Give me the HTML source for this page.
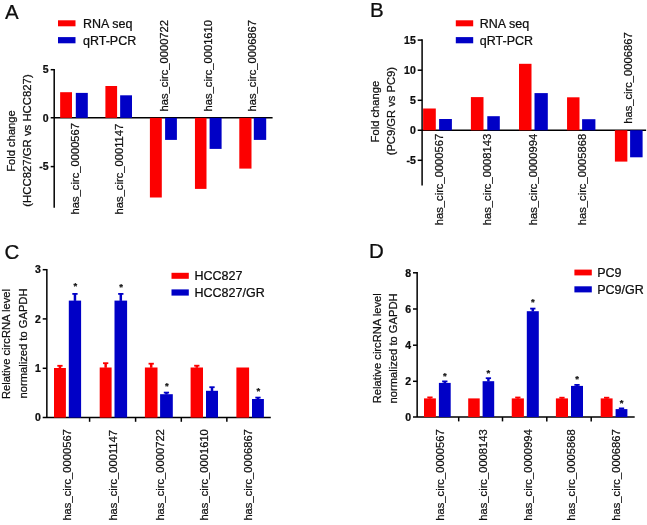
<!DOCTYPE html>
<html lang="en">
<head>
<meta charset="utf-8">
<title>circRNA expression figure</title>
<style>
html,body{margin:0;padding:0;background:#ffffff;}
body{width:647px;height:525px;overflow:hidden;}
svg{display:block;}
svg text{font-family:"Liberation Sans", Arial, sans-serif;stroke:#0a0a0a;stroke-width:0.22px;stroke-linejoin:round;}
</style>
</head>
<body>
<svg width="647" height="525" viewBox="0 0 647 525">
<defs><filter id="soft" x="0" y="0" width="647" height="525" filterUnits="userSpaceOnUse"><feGaussianBlur stdDeviation="0.38"/></filter></defs>
<rect x="0" y="0" width="647" height="525" fill="#ffffff"/>
<g filter="url(#soft)">
<!-- Panel A -->
<text x="4.90" y="18.60" font-size="20.5" text-anchor="start" font-weight="normal" fill="#0a0a0a">A</text>
<rect x="58.00" y="20.30" width="17.50" height="6.00" fill="#fc0202"/>
<rect x="58.00" y="37.10" width="17.50" height="6.20" fill="#0202c6"/>
<text x="83.00" y="27.50" font-size="12.5" text-anchor="start" font-weight="normal" fill="#0a0a0a">RNA seq</text>
<text x="83.00" y="44.50" font-size="12.5" text-anchor="start" font-weight="normal" fill="#0a0a0a">qRT-PCR</text>
<line x1="54.20" y1="68.95" x2="54.20" y2="207.70" stroke="#000000" stroke-width="1.5"/>
<line x1="50.70" y1="117.85" x2="272.60" y2="117.85" stroke="#000000" stroke-width="1.5"/>
<line x1="50.70" y1="69.70" x2="54.20" y2="69.70" stroke="#000000" stroke-width="1.5"/>
<line x1="50.70" y1="166.60" x2="54.20" y2="166.60" stroke="#000000" stroke-width="1.5"/>
<text x="48.60" y="73.45" font-size="10.5" text-anchor="end" font-weight="bold" fill="#0a0a0a">5</text>
<text x="48.60" y="121.60" font-size="10.5" text-anchor="end" font-weight="bold" fill="#0a0a0a">0</text>
<text x="48.60" y="170.35" font-size="10.5" text-anchor="end" font-weight="bold" fill="#0a0a0a">-5</text>
<rect x="60.15" y="92.20" width="11.85" height="25.65" fill="#fc0202"/>
<rect x="75.80" y="92.90" width="12.00" height="24.95" fill="#0202c6"/>
<text x="78.60" y="214.40" font-size="11.2" text-anchor="start" font-weight="normal" fill="#0a0a0a" transform="rotate(-90 78.60 214.40)">has_circ_0000567</text>
<rect x="105.40" y="86.00" width="11.70" height="31.85" fill="#fc0202"/>
<rect x="120.15" y="95.30" width="11.85" height="22.55" fill="#0202c6"/>
<text x="123.30" y="214.40" font-size="11.2" text-anchor="start" font-weight="normal" fill="#0a0a0a" transform="rotate(-90 123.30 214.40)">has_circ_0001147</text>
<rect x="149.90" y="117.85" width="11.90" height="79.65" fill="#fc0202"/>
<rect x="165.10" y="117.85" width="11.80" height="22.05" fill="#0202c6"/>
<text x="168.30" y="111.40" font-size="11.2" text-anchor="start" font-weight="normal" fill="#0a0a0a" transform="rotate(-90 168.30 111.40)">has_circ_0000722</text>
<rect x="194.95" y="117.85" width="11.55" height="71.05" fill="#fc0202"/>
<rect x="209.60" y="117.85" width="12.00" height="31.05" fill="#0202c6"/>
<text x="212.20" y="111.40" font-size="11.2" text-anchor="start" font-weight="normal" fill="#0a0a0a" transform="rotate(-90 212.20 111.40)">has_circ_0001610</text>
<rect x="239.30" y="117.85" width="12.20" height="50.75" fill="#fc0202"/>
<rect x="253.80" y="117.85" width="12.40" height="22.05" fill="#0202c6"/>
<text x="255.80" y="111.40" font-size="11.2" text-anchor="start" font-weight="normal" fill="#0a0a0a" transform="rotate(-90 255.80 111.40)">has_circ_0006867</text>
<text x="14.60" y="141.00" font-size="11.2" text-anchor="middle" font-weight="normal" fill="#0a0a0a" transform="rotate(-90 14.60 141.00)">Fold change</text>
<text x="31.20" y="140.50" font-size="11.35" text-anchor="middle" font-weight="normal" fill="#0a0a0a" transform="rotate(-90 31.20 140.50)">(HCC827/GR vs HCC827)</text>
<!-- Panel B -->
<text x="370.00" y="17.40" font-size="20.5" text-anchor="start" font-weight="normal" fill="#0a0a0a">B</text>
<rect x="455.80" y="20.30" width="17.40" height="6.00" fill="#fc0202"/>
<rect x="455.80" y="37.10" width="17.40" height="6.20" fill="#0202c6"/>
<text x="479.80" y="27.90" font-size="12.5" text-anchor="start" font-weight="normal" fill="#0a0a0a">RNA seq</text>
<text x="479.80" y="44.90" font-size="12.5" text-anchor="start" font-weight="normal" fill="#0a0a0a">qRT-PCR</text>
<line x1="422.10" y1="39.35" x2="422.10" y2="185.40" stroke="#000000" stroke-width="1.5"/>
<line x1="417.70" y1="130.25" x2="646.10" y2="130.25" stroke="#000000" stroke-width="1.5"/>
<line x1="417.70" y1="40.10" x2="422.10" y2="40.10" stroke="#000000" stroke-width="1.5"/>
<line x1="417.70" y1="70.20" x2="422.10" y2="70.20" stroke="#000000" stroke-width="1.5"/>
<line x1="417.70" y1="100.30" x2="422.10" y2="100.30" stroke="#000000" stroke-width="1.5"/>
<line x1="417.70" y1="160.30" x2="422.10" y2="160.30" stroke="#000000" stroke-width="1.5"/>
<text x="415.80" y="43.85" font-size="10.5" text-anchor="end" font-weight="bold" fill="#0a0a0a">15</text>
<text x="415.80" y="73.95" font-size="10.5" text-anchor="end" font-weight="bold" fill="#0a0a0a">10</text>
<text x="415.80" y="104.05" font-size="10.5" text-anchor="end" font-weight="bold" fill="#0a0a0a">5</text>
<text x="415.80" y="134.00" font-size="10.5" text-anchor="end" font-weight="bold" fill="#0a0a0a">0</text>
<text x="415.80" y="164.05" font-size="10.5" text-anchor="end" font-weight="bold" fill="#0a0a0a">-5</text>
<rect x="423.10" y="108.50" width="12.70" height="21.75" fill="#fc0202"/>
<rect x="439.10" y="119.00" width="12.80" height="11.25" fill="#0202c6"/>
<text x="443.50" y="225.20" font-size="11.2" text-anchor="start" font-weight="normal" fill="#0a0a0a" transform="rotate(-90 443.50 225.20)">has_circ_0000567</text>
<rect x="470.90" y="97.10" width="12.60" height="33.15" fill="#fc0202"/>
<rect x="487.30" y="116.20" width="12.50" height="14.05" fill="#0202c6"/>
<text x="491.20" y="225.20" font-size="11.2" text-anchor="start" font-weight="normal" fill="#0a0a0a" transform="rotate(-90 491.20 225.20)">has_circ_0008143</text>
<rect x="519.00" y="63.80" width="12.50" height="66.45" fill="#fc0202"/>
<rect x="534.50" y="93.10" width="13.30" height="37.15" fill="#0202c6"/>
<text x="537.00" y="225.20" font-size="11.2" text-anchor="start" font-weight="normal" fill="#0a0a0a" transform="rotate(-90 537.00 225.20)">has_circ_0000994</text>
<rect x="567.05" y="97.30" width="12.45" height="32.95" fill="#fc0202"/>
<rect x="582.10" y="119.20" width="13.30" height="11.05" fill="#0202c6"/>
<text x="585.60" y="225.20" font-size="11.2" text-anchor="start" font-weight="normal" fill="#0a0a0a" transform="rotate(-90 585.60 225.20)">has_circ_0005868</text>
<rect x="614.90" y="130.25" width="12.45" height="31.35" fill="#fc0202"/>
<rect x="630.10" y="130.25" width="12.50" height="27.05" fill="#0202c6"/>
<text x="631.60" y="123.80" font-size="11.2" text-anchor="start" font-weight="normal" fill="#0a0a0a" transform="rotate(-90 631.60 123.80)">has_circ_0006867</text>
<text x="378.70" y="111.60" font-size="11.2" text-anchor="middle" font-weight="normal" fill="#0a0a0a" transform="rotate(-90 378.70 111.60)">Fold change</text>
<text x="395.30" y="111.20" font-size="11.2" text-anchor="middle" font-weight="normal" fill="#0a0a0a" transform="rotate(-90 395.30 111.20)">(PC9/GR vs PC9)</text>
<!-- Panel C -->
<text x="4.60" y="258.60" font-size="20.5" text-anchor="start" font-weight="normal" fill="#0a0a0a">C</text>
<rect x="171.50" y="272.80" width="17.30" height="6.00" fill="#fc0202"/>
<rect x="171.50" y="289.40" width="17.30" height="6.20" fill="#0202c6"/>
<text x="194.50" y="279.90" font-size="12.5" text-anchor="start" font-weight="normal" fill="#0a0a0a">HCC827</text>
<text x="194.50" y="297.30" font-size="12.5" text-anchor="start" font-weight="normal" fill="#0a0a0a">HCC827/GR</text>
<line x1="46.85" y1="268.95" x2="46.85" y2="417.60" stroke="#000000" stroke-width="1.5"/>
<line x1="42.70" y1="417.60" x2="270.80" y2="417.60" stroke="#000000" stroke-width="1.5"/>
<line x1="42.70" y1="269.70" x2="46.85" y2="269.70" stroke="#000000" stroke-width="1.5"/>
<line x1="42.70" y1="318.90" x2="46.85" y2="318.90" stroke="#000000" stroke-width="1.5"/>
<line x1="42.70" y1="368.30" x2="46.85" y2="368.30" stroke="#000000" stroke-width="1.5"/>
<text x="40.80" y="273.45" font-size="10.5" text-anchor="end" font-weight="bold" fill="#0a0a0a">3</text>
<text x="40.80" y="322.65" font-size="10.5" text-anchor="end" font-weight="bold" fill="#0a0a0a">2</text>
<text x="40.80" y="372.05" font-size="10.5" text-anchor="end" font-weight="bold" fill="#0a0a0a">1</text>
<text x="40.80" y="421.35" font-size="10.5" text-anchor="end" font-weight="bold" fill="#0a0a0a">0</text>
<line x1="89.60" y1="417.60" x2="89.60" y2="421.80" stroke="#000000" stroke-width="1.5"/>
<line x1="135.60" y1="417.60" x2="135.60" y2="421.80" stroke="#000000" stroke-width="1.5"/>
<line x1="181.30" y1="417.60" x2="181.30" y2="421.80" stroke="#000000" stroke-width="1.5"/>
<line x1="226.85" y1="417.60" x2="226.85" y2="421.80" stroke="#000000" stroke-width="1.5"/>
<rect x="54.00" y="368.00" width="11.90" height="49.60" fill="#fc0202"/>
<line x1="59.95" y1="368.30" x2="59.95" y2="365.80" stroke="#fc0202" stroke-width="2.5"/>
<line x1="57.30" y1="365.80" x2="62.60" y2="365.80" stroke="#fc0202" stroke-width="1.8"/>
<rect x="68.80" y="300.60" width="12.30" height="117.00" fill="#0202c6"/>
<line x1="74.95" y1="300.90" x2="74.95" y2="293.90" stroke="#0202c6" stroke-width="2.5"/>
<line x1="72.30" y1="293.90" x2="77.60" y2="293.90" stroke="#0202c6" stroke-width="1.8"/>
<text x="75.25" y="288.90" font-size="9.5" text-anchor="middle" font-weight="bold" fill="#0a0a0a">*</text>
<text x="71.30" y="520.60" font-size="11.2" text-anchor="start" font-weight="normal" fill="#0a0a0a" transform="rotate(-90 71.30 520.60)">has_circ_0000567</text>
<rect x="99.70" y="367.50" width="11.90" height="50.10" fill="#fc0202"/>
<line x1="105.65" y1="367.80" x2="105.65" y2="363.20" stroke="#fc0202" stroke-width="2.5"/>
<line x1="103.00" y1="363.20" x2="108.30" y2="363.20" stroke="#fc0202" stroke-width="1.8"/>
<rect x="114.50" y="300.60" width="12.60" height="117.00" fill="#0202c6"/>
<line x1="120.80" y1="300.90" x2="120.80" y2="293.90" stroke="#0202c6" stroke-width="2.5"/>
<line x1="118.15" y1="293.90" x2="123.45" y2="293.90" stroke="#0202c6" stroke-width="1.8"/>
<text x="121.10" y="290.40" font-size="9.5" text-anchor="middle" font-weight="bold" fill="#0a0a0a">*</text>
<text x="117.30" y="520.60" font-size="11.2" text-anchor="start" font-weight="normal" fill="#0a0a0a" transform="rotate(-90 117.30 520.60)">has_circ_0001147</text>
<rect x="144.90" y="367.50" width="12.60" height="50.10" fill="#fc0202"/>
<line x1="151.20" y1="367.80" x2="151.20" y2="363.70" stroke="#fc0202" stroke-width="2.5"/>
<line x1="148.55" y1="363.70" x2="153.85" y2="363.70" stroke="#fc0202" stroke-width="1.8"/>
<rect x="160.10" y="394.20" width="12.70" height="23.40" fill="#0202c6"/>
<line x1="166.45" y1="394.50" x2="166.45" y2="392.60" stroke="#0202c6" stroke-width="2.5"/>
<line x1="163.80" y1="392.60" x2="169.10" y2="392.60" stroke="#0202c6" stroke-width="1.8"/>
<text x="166.75" y="389.10" font-size="9.5" text-anchor="middle" font-weight="bold" fill="#0a0a0a">*</text>
<text x="163.80" y="520.60" font-size="11.2" text-anchor="start" font-weight="normal" fill="#0a0a0a" transform="rotate(-90 163.80 520.60)">has_circ_0000722</text>
<rect x="190.60" y="367.50" width="12.40" height="50.10" fill="#fc0202"/>
<line x1="196.80" y1="367.80" x2="196.80" y2="365.70" stroke="#fc0202" stroke-width="2.5"/>
<line x1="194.15" y1="365.70" x2="199.45" y2="365.70" stroke="#fc0202" stroke-width="1.8"/>
<rect x="206.00" y="390.80" width="12.00" height="26.80" fill="#0202c6"/>
<line x1="212.00" y1="391.10" x2="212.00" y2="387.20" stroke="#0202c6" stroke-width="2.5"/>
<line x1="209.35" y1="387.20" x2="214.65" y2="387.20" stroke="#0202c6" stroke-width="1.8"/>
<text x="207.90" y="520.60" font-size="11.2" text-anchor="start" font-weight="normal" fill="#0a0a0a" transform="rotate(-90 207.90 520.60)">has_circ_0001610</text>
<rect x="236.40" y="367.50" width="12.70" height="50.10" fill="#fc0202"/>
<rect x="252.00" y="399.00" width="11.90" height="18.60" fill="#0202c6"/>
<line x1="257.95" y1="399.30" x2="257.95" y2="397.60" stroke="#0202c6" stroke-width="2.5"/>
<line x1="255.30" y1="397.60" x2="260.60" y2="397.60" stroke="#0202c6" stroke-width="1.8"/>
<text x="258.25" y="393.70" font-size="9.5" text-anchor="middle" font-weight="bold" fill="#0a0a0a">*</text>
<text x="252.40" y="520.60" font-size="11.2" text-anchor="start" font-weight="normal" fill="#0a0a0a" transform="rotate(-90 252.40 520.60)">has_circ_0006867</text>
<text x="9.80" y="344.00" font-size="11.2" text-anchor="middle" font-weight="normal" fill="#0a0a0a" transform="rotate(-90 9.80 344.00)">Relative circRNA level</text>
<text x="27.30" y="343.50" font-size="11.2" text-anchor="middle" font-weight="normal" fill="#0a0a0a" transform="rotate(-90 27.30 343.50)">normalized to GAPDH</text>
<!-- Panel D -->
<text x="369.00" y="258.20" font-size="20.5" text-anchor="start" font-weight="normal" fill="#0a0a0a">D</text>
<rect x="574.40" y="269.60" width="17.40" height="5.80" fill="#fc0202"/>
<rect x="574.40" y="286.30" width="17.40" height="6.10" fill="#0202c6"/>
<text x="597.20" y="277.10" font-size="12.5" text-anchor="start" font-weight="normal" fill="#0a0a0a">PC9</text>
<text x="597.20" y="294.10" font-size="12.5" text-anchor="start" font-weight="normal" fill="#0a0a0a">PC9/GR</text>
<line x1="417.15" y1="272.05" x2="417.15" y2="417.10" stroke="#000000" stroke-width="1.5"/>
<line x1="413.00" y1="417.10" x2="634.70" y2="417.10" stroke="#000000" stroke-width="1.5"/>
<line x1="413.00" y1="272.80" x2="417.15" y2="272.80" stroke="#000000" stroke-width="1.5"/>
<line x1="413.00" y1="309.00" x2="417.15" y2="309.00" stroke="#000000" stroke-width="1.5"/>
<line x1="413.00" y1="345.20" x2="417.15" y2="345.20" stroke="#000000" stroke-width="1.5"/>
<line x1="413.00" y1="381.30" x2="417.15" y2="381.30" stroke="#000000" stroke-width="1.5"/>
<text x="411.20" y="276.55" font-size="10.5" text-anchor="end" font-weight="bold" fill="#0a0a0a">8</text>
<text x="411.20" y="312.75" font-size="10.5" text-anchor="end" font-weight="bold" fill="#0a0a0a">6</text>
<text x="411.20" y="348.95" font-size="10.5" text-anchor="end" font-weight="bold" fill="#0a0a0a">4</text>
<text x="411.20" y="385.05" font-size="10.5" text-anchor="end" font-weight="bold" fill="#0a0a0a">2</text>
<text x="411.20" y="420.85" font-size="10.5" text-anchor="end" font-weight="bold" fill="#0a0a0a">0</text>
<line x1="458.70" y1="417.10" x2="458.70" y2="421.40" stroke="#000000" stroke-width="1.5"/>
<line x1="502.50" y1="417.10" x2="502.50" y2="421.40" stroke="#000000" stroke-width="1.5"/>
<line x1="546.80" y1="417.10" x2="546.80" y2="421.40" stroke="#000000" stroke-width="1.5"/>
<line x1="591.20" y1="417.10" x2="591.20" y2="421.40" stroke="#000000" stroke-width="1.5"/>
<rect x="424.00" y="398.40" width="11.90" height="18.70" fill="#fc0202"/>
<line x1="429.95" y1="398.70" x2="429.95" y2="397.40" stroke="#fc0202" stroke-width="2.5"/>
<line x1="427.30" y1="397.40" x2="432.60" y2="397.40" stroke="#fc0202" stroke-width="1.8"/>
<rect x="438.90" y="382.90" width="11.80" height="34.20" fill="#0202c6"/>
<line x1="444.80" y1="383.20" x2="444.80" y2="381.40" stroke="#0202c6" stroke-width="2.5"/>
<line x1="442.15" y1="381.40" x2="447.45" y2="381.40" stroke="#0202c6" stroke-width="1.8"/>
<text x="444.80" y="378.80" font-size="9.5" text-anchor="middle" font-weight="bold" fill="#0a0a0a">*</text>
<text x="443.70" y="520.70" font-size="11.2" text-anchor="start" font-weight="normal" fill="#0a0a0a" transform="rotate(-90 443.70 520.70)">has_circ_0000567</text>
<rect x="468.20" y="398.40" width="11.50" height="18.70" fill="#fc0202"/>
<rect x="482.60" y="381.20" width="11.60" height="35.90" fill="#0202c6"/>
<line x1="488.40" y1="381.50" x2="488.40" y2="378.20" stroke="#0202c6" stroke-width="2.5"/>
<line x1="485.75" y1="378.20" x2="491.05" y2="378.20" stroke="#0202c6" stroke-width="1.8"/>
<text x="488.40" y="375.60" font-size="9.5" text-anchor="middle" font-weight="bold" fill="#0a0a0a">*</text>
<text x="487.00" y="520.70" font-size="11.2" text-anchor="start" font-weight="normal" fill="#0a0a0a" transform="rotate(-90 487.00 520.70)">has_circ_0008143</text>
<rect x="511.75" y="398.40" width="12.15" height="18.70" fill="#fc0202"/>
<line x1="517.83" y1="398.70" x2="517.83" y2="397.50" stroke="#fc0202" stroke-width="2.5"/>
<line x1="515.18" y1="397.50" x2="520.48" y2="397.50" stroke="#fc0202" stroke-width="1.8"/>
<rect x="526.80" y="311.20" width="12.00" height="105.90" fill="#0202c6"/>
<line x1="532.80" y1="311.50" x2="532.80" y2="308.60" stroke="#0202c6" stroke-width="2.5"/>
<line x1="530.15" y1="308.60" x2="535.45" y2="308.60" stroke="#0202c6" stroke-width="1.8"/>
<text x="532.80" y="304.80" font-size="9.5" text-anchor="middle" font-weight="bold" fill="#0a0a0a">*</text>
<text x="532.10" y="520.70" font-size="11.2" text-anchor="start" font-weight="normal" fill="#0a0a0a" transform="rotate(-90 532.10 520.70)">has_circ_0000994</text>
<rect x="555.90" y="398.40" width="12.10" height="18.70" fill="#fc0202"/>
<line x1="561.95" y1="398.70" x2="561.95" y2="397.70" stroke="#fc0202" stroke-width="2.5"/>
<line x1="559.30" y1="397.70" x2="564.60" y2="397.70" stroke="#fc0202" stroke-width="1.8"/>
<rect x="571.00" y="385.90" width="12.00" height="31.20" fill="#0202c6"/>
<line x1="577.00" y1="386.20" x2="577.00" y2="384.90" stroke="#0202c6" stroke-width="2.5"/>
<line x1="574.35" y1="384.90" x2="579.65" y2="384.90" stroke="#0202c6" stroke-width="1.8"/>
<text x="577.00" y="381.70" font-size="9.5" text-anchor="middle" font-weight="bold" fill="#0a0a0a">*</text>
<text x="575.20" y="520.70" font-size="11.2" text-anchor="start" font-weight="normal" fill="#0a0a0a" transform="rotate(-90 575.20 520.70)">has_circ_0005868</text>
<rect x="600.70" y="398.40" width="11.90" height="18.70" fill="#fc0202"/>
<line x1="606.65" y1="398.70" x2="606.65" y2="397.70" stroke="#fc0202" stroke-width="2.5"/>
<line x1="604.00" y1="397.70" x2="609.30" y2="397.70" stroke="#fc0202" stroke-width="1.8"/>
<rect x="615.60" y="409.10" width="11.80" height="8.00" fill="#0202c6"/>
<line x1="621.50" y1="409.40" x2="621.50" y2="408.40" stroke="#0202c6" stroke-width="2.5"/>
<line x1="618.85" y1="408.40" x2="624.15" y2="408.40" stroke="#0202c6" stroke-width="1.8"/>
<text x="621.50" y="406.30" font-size="9.5" text-anchor="middle" font-weight="bold" fill="#0a0a0a">*</text>
<text x="620.50" y="520.70" font-size="11.2" text-anchor="start" font-weight="normal" fill="#0a0a0a" transform="rotate(-90 620.50 520.70)">has_circ_0006867</text>
<text x="381.00" y="348.20" font-size="11.2" text-anchor="middle" font-weight="normal" fill="#0a0a0a" transform="rotate(-90 381.00 348.20)">Relative circRNA level</text>
<text x="397.20" y="348.40" font-size="11.2" text-anchor="middle" font-weight="normal" fill="#0a0a0a" transform="rotate(-90 397.20 348.40)">normalized to GAPDH</text>
</g>
</svg>
</body>
</html>
